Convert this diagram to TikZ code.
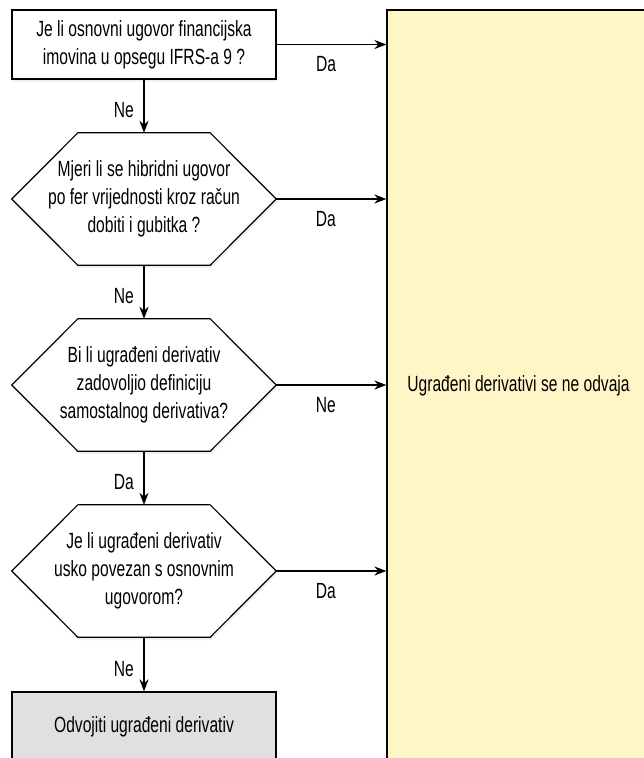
\documentclass[tikz,border=0pt]{standalone}
\usepackage{fontspec}
\setmainfont{Liberation Sans}[FakeStretch=0.71]
\usetikzlibrary{positioning}
\usetikzlibrary{arrows.meta}
\usetikzlibrary{shadows}
\pgfdeclarelayer{bg}
\pgfsetlayers{bg,main}

\definecolor{resyellow}{RGB}{255,246,200}
\definecolor{splitgray}{RGB}{224,224,224}

\begin{document}
\begin{tikzpicture}[
	x=1pt, y=-1pt,
	arrow/.style={-{Stealth[length=12pt,width=9pt]}, line width=1.8pt},
	frame/.style={draw, line width=1.2pt, drop shadow={opacity=0.12, shadow xshift=1pt, shadow yshift=-3pt}},
	box/.style={frame, fill=white, minimum width=264pt, minimum height=69pt, inner sep=0pt, align=center},
	question/.style={minimum width=264pt, minimum height=132pt, inner sep=0pt, align=center},
	every node/.style={font=\fontsize{22}{28}\selectfont},
]
\useasboundingbox (0,0) rectangle (644,758);

% result box on the right
\node[frame, fill=resyellow, minimum width=263pt, minimum height=751pt, inner sep=0pt](res) at (518.5,385.5) {Ugrađeni derivativi se ne odvaja};

% questions
\node[box](q0) at (144,44.5) {Je li osnovni ugovor financijska\\imovina u opsegu IFRS-a 9 ?};
\node[question](q1) at (144,199) {Mjeri li se hibridni ugovor\\po fer vrijednosti kroz račun\\dobiti i gubitka ?};
\node[question](q2) at (144,385) {Bi li ugrađeni derivativ\\zadovoljio definiciju\\samostalnog derivativa?};
\node[question](q3) at (144,571) {Je li ugrađeni derivativ\\usko povezan s osnovnim\\ugovorom?};
\node[box, fill=splitgray](split) at (144,726.5) {Odvojiti ugrađeni derivativ};

% hexagons behind the questions
\begin{pgfonlayer}{bg}
\foreach \q in {q1,q2,q3}
	\draw[frame, fill=white] (\q.west) -- ([xshift=66pt]\q.north west) -- ([xshift=-66pt]\q.north east)
		-- (\q.east) -- ([xshift=-66pt]\q.south east) -- ([xshift=66pt]\q.south west) -- cycle;
\end{pgfonlayer}

% Yes / No to the right
\draw[arrow] (q0.east) -- (q0.east -| res.west) node[pos=0.45, below=8pt]{Da};
\draw[arrow] (q1.east) -- (q1.east -| res.west) node[pos=0.45, below=8pt]{Da};
\draw[arrow] (q2.east) -- (q2.east -| res.west) node[pos=0.45, below=8pt]{Ne};
\draw[arrow] (q3.east) -- (q3.east -| res.west) node[pos=0.45, below=8pt]{Da};

% down the chain
\draw[arrow] (q0.south) -- (q1.north) node[pos=0.58, left=6pt]{Ne};
\draw[arrow] (q1.south) -- (q2.north) node[pos=0.58, left=6pt]{Ne};
\draw[arrow] (q2.south) -- (q3.north) node[pos=0.58, left=6pt]{Da};
\draw[arrow] (q3.south) -- (split.north) node[pos=0.58, left=6pt]{Ne};
\end{tikzpicture}
\end{document}
